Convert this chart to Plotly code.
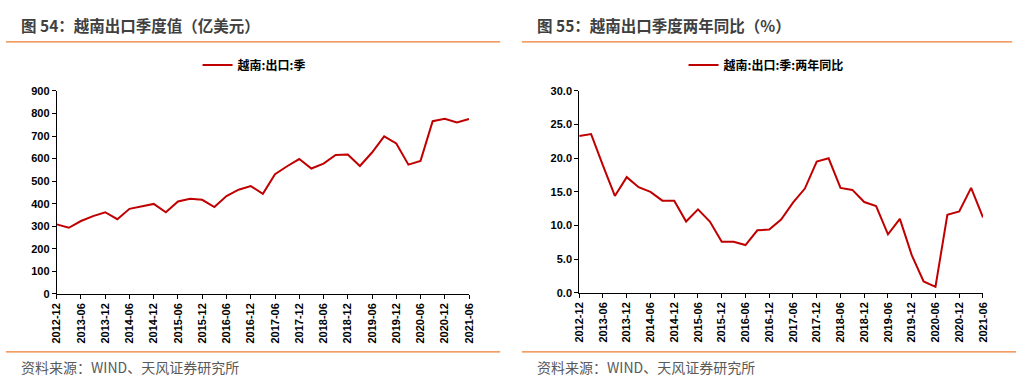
import plotly.graph_objects as go

quarters = [
    "2012-12", "2013-03", "2013-06", "2013-09", "2013-12", "2014-03", "2014-06",
    "2014-09", "2014-12", "2015-03", "2015-06", "2015-09", "2015-12", "2016-03",
    "2016-06", "2016-09", "2016-12", "2017-03", "2017-06", "2017-09", "2017-12",
    "2018-03", "2018-06", "2018-09", "2018-12", "2019-03", "2019-06", "2019-09",
    "2019-12", "2020-03", "2020-06", "2020-09", "2020-12", "2021-03", "2021-06",
]
tick_labels = quarters[::2]

exports = [308, 293, 323, 345, 362, 331, 377, 388, 399, 362, 410, 422, 417, 385,
           434, 462, 478, 444, 531, 566, 598, 556, 578, 616, 618, 567, 627, 699,
           667, 573, 590, 766, 777, 760, 776]
yoy = [23.3, 23.6, 18.9, 14.4, 17.2, 15.7, 15.0, 13.7, 13.7, 10.6, 12.4, 10.6,
       7.6, 7.6, 7.1, 9.3, 9.4, 10.9, 13.4, 15.5, 19.5, 20.0, 15.6, 15.3, 13.5,
       12.9, 8.7, 11.0, 5.6, 1.7, 0.9, 11.6, 12.1, 15.6, 11.2]

left_title = "图 54：越南出口季度值（亿美元）"
right_title = "图 55：越南出口季度两年同比（%）"
name_left = "越南:出口:季"
name_right = "越南:出口:季:两年同比"
source = "资料来源：WIND、天风证券研究所"

W, H = 1030, 388
RED = "#C00000"
ORANGE = "#ED7D31"
CJK = "Noto Sans CJK SC"
TICKFONT = dict(family="Liberation Sans, Arial", size=11, color="#000000", weight="bold")

fig = go.Figure()
fig.add_trace(go.Scatter(x=quarters, y=exports, mode="lines", name=name_left,
                         line=dict(color=RED, width=2), xaxis="x", yaxis="y",
                         legend="legend"))
fig.add_trace(go.Scatter(x=quarters, y=yoy, mode="lines", name=name_right,
                         line=dict(color=RED, width=2), xaxis="x2", yaxis="y2",
                         legend="legend2"))

def px_x(v):
    return v / W

def px_y(v):
    return 1 - v / H

xcommon = dict(type="category", categoryorder="array", categoryarray=quarters,
               range=[0, len(quarters) - 1], tickmode="array", tickvals=tick_labels,
               ticktext=tick_labels, tickangle=-90, ticks="outside", ticklen=4,
               tickcolor="#000000", showline=True, linecolor="#000000", linewidth=1,
               showgrid=False, zeroline=False, tickfont=TICKFONT, fixedrange=True)
ycommon = dict(ticks="outside", ticklen=4, tickcolor="#000000", showline=True,
               linecolor="#000000", linewidth=1, showgrid=False, zeroline=False,
               tickfont=TICKFONT, fixedrange=True)

fig.update_layout(
    width=W, height=H, margin=dict(l=0, r=0, t=0, b=0),
    paper_bgcolor="white", plot_bgcolor="white",
    xaxis=dict(domain=[px_x(51.3), px_x(468.5)], anchor="y", **xcommon),
    yaxis=dict(domain=[px_y(297), px_y(87.7)], anchor="x", range=[0, 900],
               tickvals=list(range(0, 901, 100)), **ycommon),
    xaxis2=dict(domain=[px_x(580), px_x(988.5)], anchor="y2", **xcommon),
    yaxis2=dict(domain=[px_y(296), px_y(87.7)], anchor="x2", range=[0, 30],
                tickvals=[0, 5, 10, 15, 20, 25, 30], tickformat=".1f", **ycommon),
    legend=dict(x=px_x(251), y=px_y(61), xanchor="center", yanchor="middle",
                orientation="h", itemwidth=30, bgcolor="rgba(0,0,0,0)",
                font=dict(family=CJK, size=12, color="#000000", weight="bold")),
    legend2=dict(x=px_x(769), y=px_y(61), xanchor="center", yanchor="middle",
                 orientation="h", itemwidth=30, bgcolor="rgba(0,0,0,0)",
                 font=dict(family=CJK, size=12, color="#000000", weight="bold")),
    showlegend=True,
)

shapes = [
    dict(type="line", xref="paper", yref="paper", x0=0, x1=px_x(500),
         y0=px_y(37), y1=px_y(37), line=dict(color=ORANGE, width=1.2)),
    dict(type="line", xref="paper", yref="paper", x0=px_x(522), x1=px_x(1018),
         y0=px_y(37), y1=px_y(37), line=dict(color=ORANGE, width=1.2)),
    dict(type="line", xref="paper", yref="paper", x0=0, x1=px_x(500),
         y0=px_y(357), y1=px_y(357), line=dict(color=ORANGE, width=1.2)),
    dict(type="line", xref="paper", yref="paper", x0=px_x(522), x1=px_x(1022),
         y0=px_y(357), y1=px_y(357), line=dict(color=ORANGE, width=1.2)),
]
fig.update_layout(shapes=shapes)

ann = [
    dict(text=left_title, x=px_x(13), y=px_y(20), xanchor="left", yanchor="middle",
         font=dict(family=CJK, size=15.5, color="#404040", weight="bold")),
    dict(text=right_title, x=px_x(535), y=px_y(20), xanchor="left", yanchor="middle",
         font=dict(family=CJK, size=15.5, color="#404040", weight="bold")),
    dict(text=source, x=px_x(13), y=px_y(373), xanchor="left", yanchor="middle",
         font=dict(family=CJK, size=14, color="#595959")),
    dict(text=source, x=px_x(535), y=px_y(373), xanchor="left", yanchor="middle",
         font=dict(family=CJK, size=14, color="#595959")),
]
for a in ann:
    a.update(xref="paper", yref="paper", showarrow=False)
fig.update_layout(annotations=ann)

fig.write_html("out.html", config={"displayModeBar": False},
               post_script="document.body.style.margin='0';document.body.style.overflow='hidden';")
